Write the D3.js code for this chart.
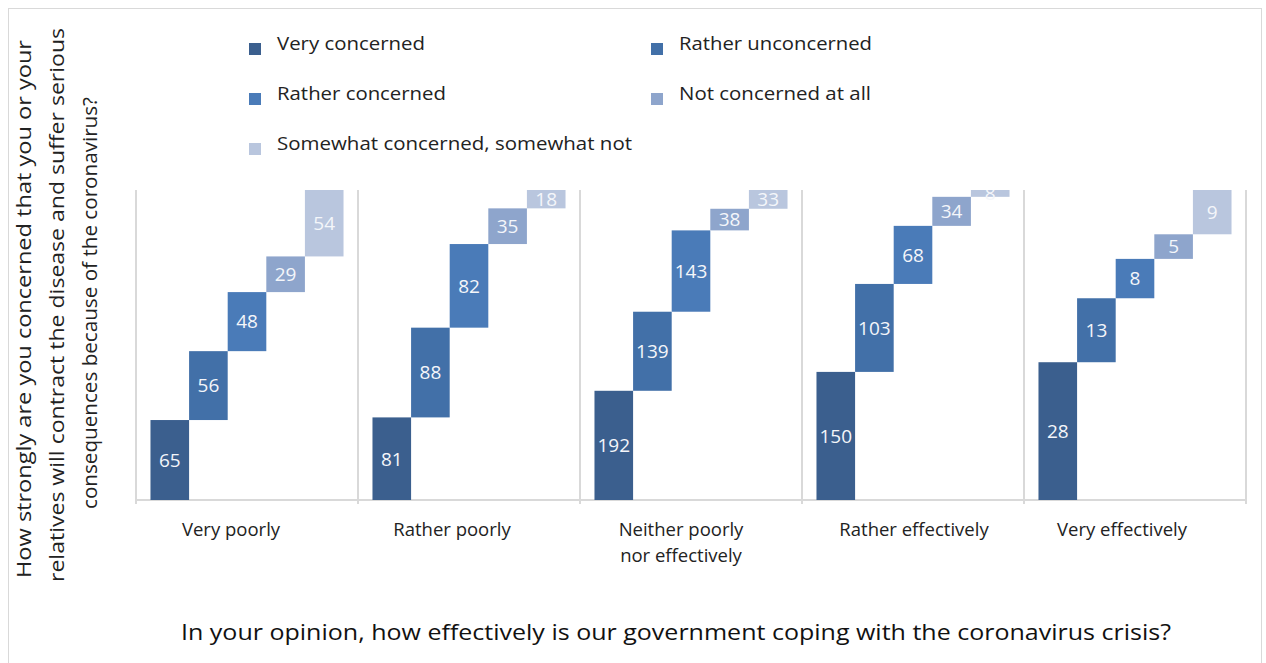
<!DOCTYPE html>
<html>
<head>
<meta charset="utf-8">
<script src="https://cdn.jsdelivr.net/npm/d3@7"></script>
<style>
  html, body { margin: 0; padding: 0; background: #fff; }
  svg { display: block; font-family: "Open Sans", "Noto Sans", sans-serif; }
</style>
</head>
<body>
<svg id="chart" width="1266" height="663"></svg>
<script>
// Government coping rating (panels) and concern level (stacked steps)
const categories = ["Very poorly", "Rather poorly", "Neither poorly nor effectively", "Rather effectively", "Very effectively"];
const categoryLines = [["Very poorly"], ["Rather poorly"], ["Neither poorly", "nor effectively"], ["Rather effectively"], ["Very effectively"]];
const seriesNames = ["Very concerned", "Rather unconcerned", "Rather concerned", "Not concerned at all", "Somewhat concerned, somewhat not"];
const seriesColors = ["#3b5f8e", "#4270a8", "#4a7bb8", "#8ea5cc", "#b9c6de"];

const veryConcerned      = [65, 81, 192, 150, 28];
const ratherUnconcerned  = [56, 88, 139, 103, 13];
const ratherConcerned    = [48, 82, 143, 68, 8];
const notConcernedAtAll  = [29, 35, 38, 34, 5];
const somewhatConcerned  = [54, 18, 33, 8, 9];
const seriesValues = [veryConcerned, ratherUnconcerned, ratherConcerned, notConcernedAtAll, somewhatConcerned];

const yTitleLines = [
  "How strongly are you concerned that you or your",
  "relatives will contract the disease and suffer serious",
  "consequences because of the coronavirus?"
];
const xTitle = "In your opinion, how effectively is our government coping with the coronavirus crisis?";

const svg = d3.select("#chart");
const gridColor = "#d9d9d9";

// outer chart border
svg.append("rect")
  .attr("x", 8.5).attr("y", 8.5).attr("width", 1253).attr("height", 700)
  .attr("fill", "none").attr("stroke", gridColor).attr("stroke-width", 1);

const plot = { left: 136, right: 1246, top: 190, bottom: 500 };

const xPanel = d3.scaleBand().domain(categories).range([plot.left, plot.right]).padding(0);
const xInner = d3.scaleBand().domain(seriesNames).range([0, xPanel.bandwidth()])
  .paddingInner(0).paddingOuter(0.375);
const y = d3.scaleLinear().domain([0, 100]).range([plot.bottom, plot.top]);
const color = d3.scaleOrdinal().domain(seriesNames).range(seriesColors);

// step segments: each panel's shares stacked as a staircase
const segments = [];
categories.forEach((cat, ci) => {
  const total = d3.sum(seriesValues, s => s[ci]);
  let cum = 0;
  seriesNames.forEach((name, si) => {
    const v = seriesValues[si][ci];
    const p0 = cum / total * 100;
    cum += v;
    const p1 = cum / total * 100;
    segments.push({ cat, name, value: v, p0, p1 });
  });
});

svg.append("defs").append("clipPath").attr("id", "plotClip")
  .append("rect")
  .attr("x", plot.left).attr("y", plot.top)
  .attr("width", plot.right - plot.left).attr("height", plot.bottom - plot.top);

// panel separators and baseline
const sepX = categories.map(c => xPanel(c)).concat([plot.right]);
svg.append("g").selectAll("line").data(sepX).join("line")
  .attr("x1", d => d).attr("x2", d => d)
  .attr("y1", plot.top).attr("y2", plot.bottom + 4)
  .attr("stroke", gridColor).attr("stroke-width", 2);
svg.append("line")
  .attr("x1", plot.left).attr("x2", plot.right)
  .attr("y1", plot.bottom).attr("y2", plot.bottom)
  .attr("stroke", gridColor).attr("stroke-width", 2);

const marks = svg.append("g").attr("clip-path", "url(#plotClip)");
marks.selectAll("rect").data(segments).join("rect")
  .attr("x", d => xPanel(d.cat) + xInner(d.name))
  .attr("width", xInner.bandwidth())
  .attr("y", d => y(d.p1))
  .attr("height", d => y(d.p0) - y(d.p1))
  .attr("fill", d => color(d.name));

marks.selectAll("text").data(segments).join("text")
  .attr("x", d => xPanel(d.cat) + xInner(d.name) + xInner.bandwidth() / 2)
  .attr("y", d => (y(d.p0) + y(d.p1)) / 2)
  .attr("dy", "0.36em")
  .attr("text-anchor", "middle")
  .attr("fill", "#f4f6fa")
  .attr("font-size", 19)
  .text(d => d.value);

// category labels (slight per-label shifts of the text block)
const labelShift = [-16, -17, -10, 1, -13];
const catG = svg.append("g").selectAll("text").data(categories).join("text")
  .attr("text-anchor", "middle")
  .attr("fill", "#222")
  .attr("font-size", 18.5)
  .attr("transform", (d, i) => `translate(${xPanel(d) + xPanel.bandwidth() / 2 + labelShift[i]},536)`);
catG.each(function(d, i) {
  d3.select(this).selectAll("tspan").data(categoryLines[i]).join("tspan")
    .attr("x", 0).attr("dy", (t, j) => j === 0 ? 0 : 25.5)
    .text(t => t);
});

// x axis title
svg.append("text")
  .attr("x", 676).attr("y", 640)
  .attr("text-anchor", "middle")
  .attr("fill", "#111")
  .attr("font-size", 22)
  .attr("textLength", 990).attr("lengthAdjust", "spacingAndGlyphs")
  .text(xTitle);

// y axis title (three rotated lines)
const yLineLen = [538, 554, 412];
const yBase = [31, 64, 97];
const yMid = [309, 305, 303];
svg.append("g").selectAll("text").data(yTitleLines).join("text")
  .attr("transform", (d, i) => `translate(${yBase[i]},${yMid[i]}) rotate(-90)`)
  .attr("text-anchor", "middle")
  .attr("fill", "#222")
  .attr("font-size", 20)
  .attr("textLength", (d, i) => yLineLen[i]).attr("lengthAdjust", "spacingAndGlyphs")
  .text(d => d);

// legend, two columns filled row by row
const legendCols = [249, 651];
const legendRows = [50, 100, 150];
const legendWidths = [148, 193, 169, 192, 355];
const legend = svg.append("g").selectAll("g").data(seriesNames).join("g")
  .attr("transform", (d, i) => `translate(${legendCols[i % 2]},${legendRows[Math.floor(i / 2)]})`);
legend.append("rect")
  .attr("x", 0).attr("y", -7).attr("width", 12).attr("height", 12)
  .attr("fill", d => color(d));
legend.append("text")
  .attr("x", 28).attr("y", 0)
  .attr("fill", "#222")
  .attr("font-size", 18)
  .attr("textLength", (d, i) => legendWidths[i]).attr("lengthAdjust", "spacingAndGlyphs")
  .text(d => d);
</script>
</body>
</html>
